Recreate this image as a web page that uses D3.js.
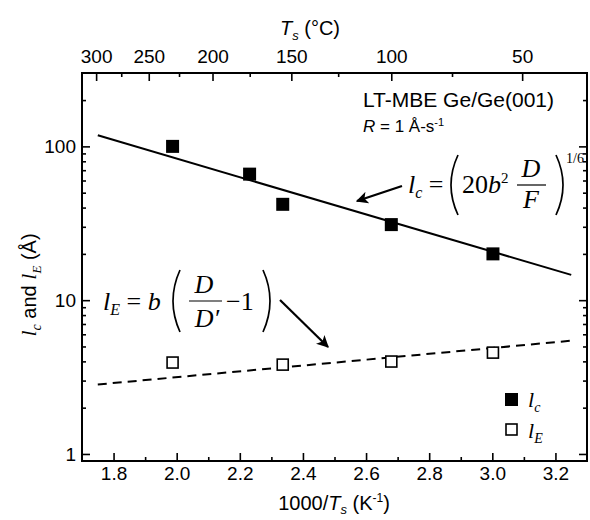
<!DOCTYPE html>
<html>
<head>
<meta charset="utf-8">
<script src="https://cdn.jsdelivr.net/npm/d3@7"></script>
<style>
  body { margin: 0; background: #fff; }
  svg { display: block; }
  .sans { font-family: "Liberation Sans", Arial, sans-serif; }
  .serif { font-family: "Liberation Serif", "Times New Roman", serif; }
</style>
</head>
<body>
<svg width="590" height="520"></svg>
<script>
// données
const lcX = [1.987, 2.231, 2.336, 2.680, 3.002];
const lcY = [100, 66, 42, 31, 20];
const leX = [1.987, 2.336, 2.680, 3.002];
const leY = [3.93, 3.81, 3.99, 4.56];
// droites d'ajustement (extrémités)
const lcFitX = [1.75, 3.25];
const lcFitY = [118, 14.6];
const leFitX = [1.75, 3.25];
const leFitY = [2.83, 5.45];
// graduations
const xMajor = [1.8, 2.0, 2.2, 2.4, 2.6, 2.8, 3.0, 3.2];
const xMinor = [1.9, 2.1, 2.3, 2.5, 2.7, 2.9, 3.1];
const yMajor = [1, 10, 100];
const yMinor = [2, 3, 4, 5, 6, 7, 8, 9, 20, 30, 40, 50, 60, 70, 80, 90, 200];
const tMajor = [300, 250, 200, 150, 100, 50];
const tMinor = [275, 225, 175, 125, 75];

const svg = d3.select("svg"),
      margin = { top: 73, right: 3, bottom: 59, left: 82 },
      width = svg.attr("width") - margin.left - margin.right,
      height = svg.attr("height") - margin.top - margin.bottom;

const chart = svg.append("g")
    .attr("transform", `translate(${margin.left},${margin.top})`);

const x = d3.scaleLinear().domain([1.7, 3.3]).range([0, width]);
const y = d3.scaleLog().domain([0.9, 300]).range([height, 0]);

function styleAxis(g) {
    g.select(".domain").remove();
    g.selectAll("line").attr("stroke", "#000").attr("stroke-width", 1.6);
    g.selectAll("text").attr("class", "sans").attr("font-size", 19).attr("fill", "#000");
}

// axe du bas
chart.append("g").attr("transform", `translate(0,${height})`)
    .call(d3.axisBottom(x).tickValues(xMajor).tickSize(-8).tickPadding(6).tickFormat(d3.format(".1f")))
    .call(styleAxis);
chart.append("g").attr("transform", `translate(0,${height})`)
    .call(d3.axisBottom(x).tickValues(xMinor).tickSize(-4).tickFormat(""))
    .call(styleAxis);

// axe du haut (°C)
chart.append("g")
    .call(d3.axisTop(x).tickValues(tMajor.map(t => 1000 / (t + 273.15)))
        .tickSize(-8).tickPadding(10).tickFormat((d, i) => tMajor[i]))
    .call(styleAxis);
chart.append("g")
    .call(d3.axisTop(x).tickValues(tMinor.map(t => 1000 / (t + 273.15))).tickSize(-4).tickFormat(""))
    .call(styleAxis);

// axe gauche
chart.append("g")
    .call(d3.axisLeft(y).tickValues(yMajor).tickSize(-8).tickPadding(6).tickFormat(d3.format("d")))
    .call(styleAxis);
chart.append("g")
    .call(d3.axisLeft(y).tickValues(yMinor).tickSize(-4).tickFormat(""))
    .call(styleAxis);

// axe droit
chart.append("g").attr("transform", `translate(${width},0)`)
    .call(d3.axisRight(y).tickValues(yMajor).tickSize(-8).tickFormat(""))
    .call(styleAxis);
chart.append("g").attr("transform", `translate(${width},0)`)
    .call(d3.axisRight(y).tickValues(yMinor).tickSize(-4).tickFormat(""))
    .call(styleAxis);

// cadre
chart.append("rect")
    .attr("width", width).attr("height", height)
    .attr("fill", "none").attr("stroke", "#000").attr("stroke-width", 2);

// droites
const line = d3.line().x(d => x(d[0])).y(d => y(d[1]));
chart.append("path")
    .datum(d3.zip(lcFitX, lcFitY))
    .attr("d", line).attr("fill", "none").attr("stroke", "#000").attr("stroke-width", 2);
chart.append("path")
    .datum(d3.zip(leFitX, leFitY))
    .attr("d", line).attr("fill", "none").attr("stroke", "#000").attr("stroke-width", 2)
    .attr("stroke-dasharray", "9,6");

// points
const s = 13;
chart.selectAll(".lc")
    .data(d3.zip(lcX, lcY))
    .join("rect")
    .attr("class", "lc")
    .attr("x", d => x(d[0]) - s / 2).attr("y", d => y(d[1]) - s / 2)
    .attr("width", s).attr("height", s).attr("fill", "#000");
chart.selectAll(".le")
    .data(d3.zip(leX, leY))
    .join("rect")
    .attr("class", "le")
    .attr("x", d => x(d[0]) - (s - 2) / 2).attr("y", d => y(d[1]) - (s - 2) / 2)
    .attr("width", s - 2).attr("height", s - 2)
    .attr("fill", "#fff").attr("stroke", "#000").attr("stroke-width", 1.6);

// titres des axes
svg.append("text").attr("class", "sans").attr("font-size", 20)
    .attr("x", 310).attr("y", 35).attr("text-anchor", "middle")
    .html(`<tspan font-style="italic">T</tspan><tspan font-style="italic" font-size="13" dy="5">s</tspan><tspan dy="-5"> (°C)</tspan>`);

svg.append("text").attr("class", "sans").attr("font-size", 20)
    .attr("x", 334).attr("y", 510).attr("text-anchor", "middle")
    .html(`1000/<tspan font-style="italic">T</tspan><tspan font-style="italic" font-size="13" dy="4">s</tspan><tspan dy="-4"> (K</tspan><tspan font-size="12" dy="-8">-1</tspan><tspan dy="8">)</tspan>`);

svg.append("text").attr("class", "sans").attr("font-size", 20)
    .attr("transform", "translate(36,285) rotate(-90)").attr("text-anchor", "middle")
    .html(`<tspan class="serif" font-style="italic" font-size="22">l</tspan><tspan class="serif" font-style="italic" font-size="14" dy="5">c</tspan><tspan dy="-5"> and </tspan><tspan class="serif" font-style="italic" font-size="22">l</tspan><tspan class="serif" font-style="italic" font-size="13" dy="5">E</tspan><tspan dy="-5"> (Å)</tspan>`);

// annotations
svg.append("text").attr("class", "sans").attr("font-size", 21)
    .attr("x", 363).attr("y", 107).text("LT-MBE Ge/Ge(001)");
svg.append("text").attr("class", "sans").attr("font-size", 17)
    .attr("x", 363).attr("y", 132)
    .html(`<tspan font-style="italic">R</tspan> = 1 Å-s<tspan font-size="11" dy="-6">-1</tspan>`);

// parenthèses dessinées
function paren(g, x0, y0, y1, dir) {
    const bulge = 14 * dir;
    g.append("path")
        .attr("d", `M${x0},${y0} Q${x0 + bulge},${(y0 + y1) / 2} ${x0},${y1}`)
        .attr("fill", "none").attr("stroke", "#000").attr("stroke-width", 1.7);
}

// équation l_c
const eq1 = svg.append("g").attr("class", "serif");
eq1.append("text").attr("x", 408).attr("y", 193).attr("font-size", 26)
    .html(`<tspan font-style="italic">l</tspan><tspan font-style="italic" font-size="16" dy="5">c</tspan><tspan dy="-5"> =</tspan>`);
paren(eq1, 458, 155, 215, -1);
eq1.append("text").attr("x", 462).attr("y", 193).attr("font-size", 26)
    .html(`20<tspan font-style="italic">b</tspan><tspan font-size="15" dy="-10">2</tspan>`);
eq1.append("text").attr("x", 531).attr("y", 177).attr("font-size", 26).attr("font-style", "italic").attr("text-anchor", "middle").text("D");
eq1.append("line").attr("x1", 517).attr("x2", 546).attr("y1", 185).attr("y2", 185).attr("stroke", "#000").attr("stroke-width", 1.2);
eq1.append("text").attr("x", 531).attr("y", 208).attr("font-size", 26).attr("font-style", "italic").attr("text-anchor", "middle").text("F");
paren(eq1, 556, 155, 215, 1);
eq1.append("text").attr("x", 566).attr("y", 163).attr("font-size", 14).text("1/6");

// équation l_E
const eq2 = svg.append("g").attr("class", "serif");
eq2.append("text").attr("x", 103).attr("y", 310).attr("font-size", 26)
    .html(`<tspan font-style="italic">l</tspan><tspan font-style="italic" font-size="16" dy="5">E</tspan><tspan dy="-5"> = </tspan><tspan font-style="italic">b</tspan>`);
paren(eq2, 180, 270, 332, -1);
eq2.append("text").attr("x", 204).attr("y", 293).attr("font-size", 26).attr("font-style", "italic").attr("text-anchor", "middle").text("D");
eq2.append("line").attr("x1", 189).attr("x2", 222).attr("y1", 301).attr("y2", 301).attr("stroke", "#000").attr("stroke-width", 1.2);
eq2.append("text").attr("x", 207).attr("y", 327).attr("font-size", 26).attr("font-style", "italic").attr("text-anchor", "middle").text("D′");
eq2.append("text").attr("x", 226).attr("y", 310).attr("font-size", 26).text("−1");
paren(eq2, 263, 270, 332, 1);

// flèches
svg.append("defs").append("marker")
    .attr("id", "arrow").attr("viewBox", "0 0 10 10").attr("refX", 9).attr("refY", 5)
    .attr("markerWidth", 5.5).attr("markerHeight", 5.5).attr("orient", "auto")
    .append("path").attr("d", "M0,0 L10,5 L0,10 L2.5,5 z").attr("fill", "#000");
svg.append("line").attr("x1", 402).attr("y1", 186).attr("x2", 357).attr("y2", 201)
    .attr("stroke", "#000").attr("stroke-width", 2.2).attr("marker-end", "url(#arrow)");
svg.append("line").attr("x1", 280).attr("y1", 300).attr("x2", 328).attr("y2", 347)
    .attr("stroke", "#000").attr("stroke-width", 2.2).attr("marker-end", "url(#arrow)");

// légende
const leg = svg.append("g");
leg.append("rect").attr("x", 505).attr("y", 393).attr("width", 13).attr("height", 13).attr("fill", "#000");
leg.append("rect").attr("x", 506).attr("y", 424).attr("width", 11).attr("height", 11)
    .attr("fill", "#fff").attr("stroke", "#000").attr("stroke-width", 1.6);
leg.append("text").attr("class", "serif").attr("x", 528).attr("y", 407).attr("font-size", 22)
    .html(`<tspan font-style="italic">l</tspan><tspan font-style="italic" font-size="14" dy="5">c</tspan>`);
leg.append("text").attr("class", "serif").attr("x", 528).attr("y", 438).attr("font-size", 22)
    .html(`<tspan font-style="italic">l</tspan><tspan font-style="italic" font-size="14" dy="5">E</tspan>`);
</script>
</body>
</html>
